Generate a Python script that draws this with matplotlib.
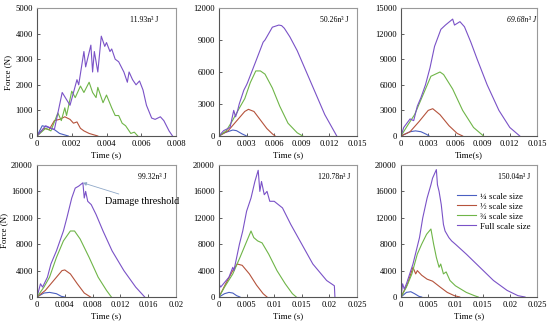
import matplotlib

matplotlib.use("Agg")
import matplotlib.pyplot as plt  # noqa: E402

plt.rcParams["font.family"] = ["Liberation Serif", "DejaVu Serif"]

SERIES = ["¼ scale size", "½ scale size", "¾ scale size", "Full scale size"]
COLORS = ["#4a5fc1", "#b5533c", "#6fb548", "#7a52c7"]

ENERGY_LABELS = ["11.93n³ J", "50.26n³ J", "69.68n³ J", "99.32n³ J", "120.78n³ J", "150.04n³ J"]
XLABELS = ["Time (s)", "Time (s)", "Time(s)", "Time (s)", "Time (s)", "Time (s)"]

XTICKS = [
    [0, 0.002, 0.004, 0.006, 0.008],
    [0, 0.003, 0.006, 0.009, 0.012, 0.015],
    [0, 0.003, 0.006, 0.009, 0.012, 0.015],
    [0, 0.004, 0.008, 0.012, 0.016, 0.02],
    [0, 0.005, 0.01, 0.015, 0.02, 0.025],
    [0, 0.005, 0.01, 0.015, 0.02, 0.025],
]
XTICK_LABELS = [
    ["0", "0.002", "0.004", "0.006", "0.008"],
    ["0", "0.003", "0.006", "0.009", "0.012", "0.015"],
    ["0", "0.003", "0.006", "0.009", "0.012", "0.015"],
    ["0", "0.004", "0.008", "0.012", "0.016", "0.02"],
    ["0", "0.005", "0.01", "0.015", "0.02", "0.025"],
    ["0", "0.005", "0.01", "0.015", "0.02", "0.025"],
]
YTICKS = [
    [0, 1000, 2000, 3000, 4000, 5000],
    [0, 3000, 6000, 9000, 12000],
    [0, 3000, 6000, 9000, 12000, 15000],
    [0, 4000, 8000, 12000, 16000, 20000],
    [0, 4000, 8000, 12000, 16000, 20000],
    [0, 4000, 8000, 12000, 16000, 20000],
]

# panel 1: 11.93 n^3 J  (time s, force N)
p1_quarter = [(0, 0), (0.0003, 400), (0.0006, 350), (0.001, 250), (0.0013, 100), (0.0018, 0)]
p1_half = [(0, 0), (0.0004, 300), (0.0007, 250), (0.001, 600), (0.0013, 650), (0.0016, 750),
           (0.0019, 650), (0.0021, 500), (0.0023, 550), (0.0025, 300), (0.0027, 200),
           (0.003, 100), (0.0035, 0)]
p1_three = [(0, 0), (0.0005, 300), (0.0008, 200), (0.0012, 900), (0.0014, 600), (0.0016, 1100),
            (0.0017, 800), (0.002, 1750), (0.0022, 1500), (0.0025, 1950), (0.0027, 1700),
            (0.003, 2100), (0.0032, 1700), (0.0034, 1500), (0.0035, 1900), (0.0038, 1300),
            (0.004, 1600), (0.0043, 1100), (0.0045, 800), (0.0047, 800), (0.0049, 500),
            (0.0051, 400), (0.0054, 100), (0.0056, 150), (0.0058, 0)]
p1_full = [(0, 0), (0.0005, 400), (0.001, 250), (0.00145, 1700), (0.0019, 1200), (0.0023, 2200),
           (0.0024, 2000), (0.0027, 3300), (0.0028, 2700), (0.0031, 3550), (0.0032, 2500),
           (0.0033, 3300), (0.0035, 2500), (0.0037, 3900), (0.0039, 3500), (0.004, 3650),
           (0.0042, 3300), (0.0043, 3400), (0.0045, 3000), (0.0047, 2900), (0.005, 2500),
           (0.0052, 2100), (0.0053, 2500), (0.0055, 2200), (0.0057, 2000), (0.0059, 2150),
           (0.0061, 1800), (0.0063, 1200), (0.0066, 700), (0.0068, 650), (0.0071, 750),
           (0.0073, 600), (0.0076, 200), (0.0078, 0)]

# panel 2: 50.26 n^3 J
p2_quarter = [(0, 0), (0.0006, 300), (0.0015, 560), (0.0019, 500), (0.0025, 200), (0.003, 0)]
p2_half = [(0, 0), (0.001, 500), (0.002, 1500), (0.0028, 2300), (0.0032, 2500), (0.0038, 2300),
           (0.0045, 1500), (0.0052, 700), (0.0058, 200), (0.0061, 0)]
p2_three = [(0, 0), (0.0008, 500), (0.0015, 1500), (0.0022, 2600), (0.0028, 3500), (0.0034, 5000),
            (0.004, 6100), (0.0045, 6100), (0.005, 5800), (0.0058, 4500), (0.0066, 2800),
            (0.0075, 1200), (0.0085, 300), (0.0091, 0)]
p2_full = [(0, 0), (0.0005, 500), (0.0012, 800), (0.0016, 2400), (0.0018, 1800), (0.002, 2300),
           (0.0022, 3000), (0.0027, 4300), (0.003, 4800), (0.0031, 5000), (0.004, 7000),
           (0.0048, 8800), (0.005, 9000), (0.0058, 10200), (0.0065, 10400), (0.0068, 10350),
           (0.0071, 10100), (0.0077, 9300), (0.0085, 8000), (0.0095, 6000), (0.0105, 4000),
           (0.0115, 2000), (0.0128, 0)]

# panel 3: 69.68 n^3 J
p3_quarter = [(0, 0), (0.001, 500), (0.0016, 600), (0.0022, 500), (0.0028, 200), (0.0031, 0)]
p3_half = [(0, 0), (0.001, 500), (0.002, 1700), (0.003, 3000), (0.0035, 3200), (0.0043, 2500),
           (0.0053, 1200), (0.0062, 300), (0.0068, 0)]
p3_three = [(0, 0), (0.0007, 1200), (0.0015, 2500), (0.0025, 5000), (0.0033, 7000), (0.0043, 7500),
            (0.0047, 7200), (0.0057, 5500), (0.0068, 3000), (0.008, 1000), (0.0091, 0)]
p3_full = [(0, 0), (0.0003, 1000), (0.001, 2000), (0.0014, 1800), (0.0018, 3500), (0.0022, 4500),
           (0.0027, 6000), (0.0032, 8000), (0.0037, 10500), (0.0044, 12500), (0.0049, 13000),
           (0.0057, 13700), (0.0059, 13000), (0.0065, 13400), (0.007, 12800), (0.0077, 11000),
           (0.0084, 9000), (0.0095, 6000), (0.0108, 3000), (0.012, 1000), (0.0131, 0)]

# panel 4: 99.32 n^3 J
p4_quarter = [(0, 0), (0.001, 600), (0.0018, 700), (0.0028, 500), (0.0035, 100), (0.004, 0)]
p4_half = [(0, 0), (0.0012, 1000), (0.0028, 3000), (0.0036, 4000), (0.004, 4100), (0.0048, 3500),
           (0.0058, 2000), (0.0068, 600), (0.0077, 0)]
p4_three = [(0, 0), (0.001, 1500), (0.0018, 3000), (0.0028, 6000), (0.0038, 8500), (0.0048, 10000),
            (0.0054, 10000), (0.0062, 8800), (0.0075, 6000), (0.0088, 3000), (0.01, 1000),
            (0.0107, 0)]
p4_full = [(0, 0), (0.0005, 2000), (0.0008, 1500), (0.0015, 3000), (0.002, 5000), (0.0028, 7000),
           (0.0033, 8500), (0.0038, 10000), (0.0043, 12000), (0.005, 15000), (0.0055, 16500),
           (0.006, 16800), (0.0066, 17300), (0.0068, 15000), (0.007, 16000), (0.0073, 14500),
           (0.0078, 14000), (0.0085, 12500), (0.0095, 10000), (0.0108, 7000), (0.0125, 4000),
           (0.0142, 1500), (0.0155, 0)]

# panel 5: 120.78 n^3 J
p5_quarter = [(0, 0), (0.001, 500), (0.0018, 700), (0.0025, 600), (0.0032, 200), (0.0038, 0)]
p5_half = [(0, 0), (0.0012, 2000), (0.0025, 4000), (0.0033, 5000), (0.0042, 4800), (0.0055, 3500),
           (0.0068, 1800), (0.008, 500), (0.0087, 0)]
p5_three = [(0, 0), (0.001, 1500), (0.0025, 3500), (0.0038, 6000), (0.0048, 8000), (0.0058, 10000),
            (0.0063, 9000), (0.007, 8500), (0.0078, 8200), (0.009, 6500), (0.0105, 4000),
            (0.012, 2000), (0.0133, 500), (0.014, 0)]
p5_full = [(0, 2000), (0.0003, 1500), (0.001, 2200), (0.0018, 3000), (0.0025, 4500), (0.0027, 4000),
           (0.0032, 6000), (0.0037, 8000), (0.0043, 10000), (0.005, 13000), (0.0058, 15000),
           (0.0065, 17500), (0.0071, 19200), (0.0074, 16000), (0.0077, 17500), (0.0082, 15500),
           (0.0087, 16000), (0.0092, 14500), (0.01, 14500), (0.0115, 13500), (0.013, 11000),
           (0.015, 8000), (0.017, 5000), (0.0195, 2500), (0.0209, 1700), (0.021, 0)]

# panel 6: 150.04 n^3 J
p6_quarter = [(0, 0), (0.001, 700), (0.0018, 800), (0.0025, 500), (0.0033, 100), (0.0038, 0)]
p6_half = [(0, 0), (0.0012, 2000), (0.0022, 4500), (0.0027, 3500), (0.003, 4000), (0.0038, 3300),
           (0.0048, 2700), (0.0058, 2400), (0.0072, 1500), (0.0085, 700), (0.0098, 200),
           (0.0108, 0)]
p6_three = [(0, 0), (0.001, 1500), (0.002, 3500), (0.003, 6500), (0.0038, 8000), (0.0047, 9500),
            (0.0055, 10300), (0.006, 8000), (0.0065, 6000), (0.007, 4500), (0.0073, 5000),
            (0.0078, 3500), (0.0083, 3800), (0.009, 2500), (0.01, 1700), (0.012, 700),
            (0.0135, 200), (0.0142, 0)]
p6_full = [(0, 0), (0.0003, 2000), (0.0006, 1200), (0.001, 2000), (0.0018, 4000), (0.0022, 5000),
           (0.0028, 7000), (0.0034, 9000), (0.004, 12000), (0.0048, 15000), (0.0055, 17000),
           (0.0058, 18000), (0.0065, 19300), (0.0067, 17000), (0.007, 16000), (0.0074, 14000),
           (0.0078, 11000), (0.0081, 10000), (0.0088, 9000), (0.0093, 8500), (0.01, 8000),
           (0.012, 6500), (0.0145, 4500), (0.017, 2500), (0.0195, 1000), (0.0215, 200),
           (0.0228, 0)]

PANEL_DATA = [
    [p1_quarter, p1_half, p1_three, p1_full],
    [p2_quarter, p2_half, p2_three, p2_full],
    [p3_quarter, p3_half, p3_three, p3_full],
    [p4_quarter, p4_half, p4_three, p4_full],
    [p5_quarter, p5_half, p5_three, p5_full],
    [p6_quarter, p6_half, p6_three, p6_full],
]

DAMAGE_POINT = (0.0066, 17300)

# axes rectangles in figure pixels: left, top, width, height
RECTS = [(37, 8, 139, 128), (219, 8, 138, 128), (401, 8, 136, 128),
         (37, 165, 139, 132), (219, 165, 138, 132), (401, 165, 136, 132)]
LABEL_X = [0.67, 0.73, 0.78, 0.73, 0.72, 0.71]

W, H = 550, 325
fig = plt.figure(figsize=(W / 100, H / 100), dpi=100)

for index, series_list in enumerate(PANEL_DATA):
    left, top, width, height = RECTS[index]
    axis = fig.add_axes([left / W, 1 - (top + height) / H, width / W, height / H])
    for series, color, name in zip(series_list, COLORS, SERIES):
        times = [point[0] for point in series]
        forces = [point[1] for point in series]
        axis.plot(times, forces, color=color, lw=0.8, label=name)
    axis.set_xlim(XTICKS[index][0], XTICKS[index][-1])
    axis.set_ylim(YTICKS[index][0], YTICKS[index][-1])
    axis.set_xticks(XTICKS[index])
    axis.set_xticklabels(XTICK_LABELS[index])
    axis.set_yticks(YTICKS[index])
    axis.set_yticklabels([str(value) for value in YTICKS[index]])
    axis.tick_params(direction="in", length=2, width=0.6, labelsize=6.2, pad=3, color="#444444")
    for side in ["left", "bottom"]:
        axis.spines[side].set_color("#555555")
        axis.spines[side].set_linewidth(0.8)
    for side in ["top", "right"]:
        axis.spines[side].set_color("#999999")
        axis.spines[side].set_linewidth(0.8)
    axis.set_xlabel(XLABELS[index], fontsize=6.4, labelpad=2)
    if index in (0, 3):
        axis.set_ylabel("Force (N)", fontsize=6.4, labelpad=2)
    axis.text(LABEL_X[index], 0.91, ENERGY_LABELS[index], transform=axis.transAxes,
              fontsize=5.6, va="center", ha="left", style="italic" if index == 2 else "normal")
    if index == 3:
        axis.annotate("Damage threshold", xy=DAMAGE_POINT, xytext=(0.0098, 14500),
                      fontsize=7.3, va="center", ha="left",
                      arrowprops=dict(arrowstyle="-|>", color="#8fa8c8", lw=0.6,
                                      mutation_scale=5, shrinkA=0, shrinkB=0))
    if index == 5:
        axis.legend(loc="upper right", bbox_to_anchor=(1.0, 0.84), frameon=False,
                    fontsize=6.4, handlelength=2.1, handletextpad=0.5, labelspacing=0.2,
                    borderaxespad=0.3)

fig.savefig("out.png", dpi=100)
